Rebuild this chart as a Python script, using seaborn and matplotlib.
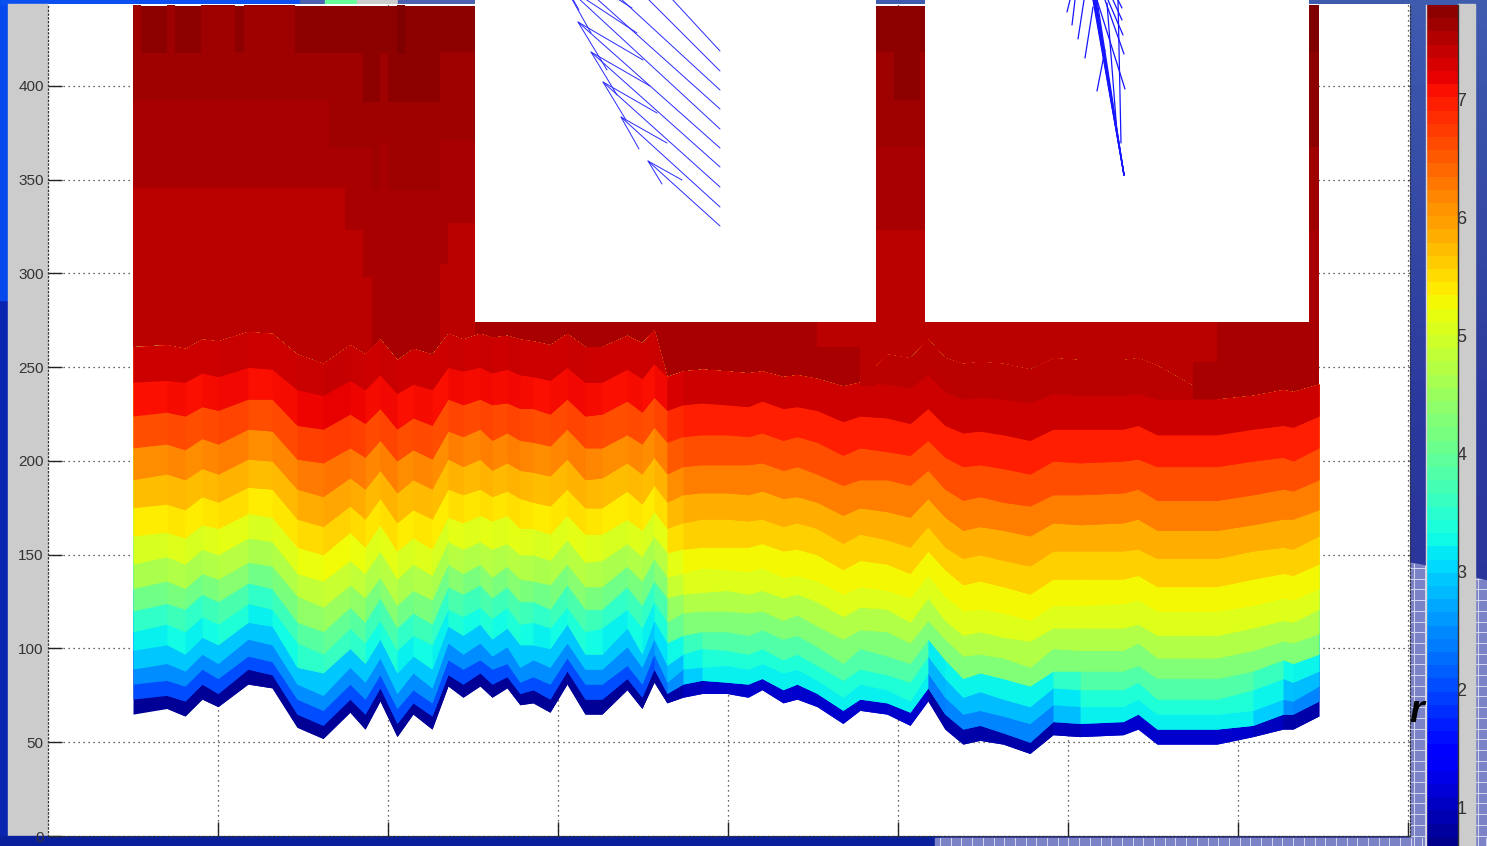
import numpy as np
import matplotlib
matplotlib.use('Agg')
import matplotlib.pyplot as plt
import seaborn as sns
from matplotlib.colors import Normalize
from matplotlib.patches import Polygon, Rectangle

# Vi tri cac tram tren truc x
station_x = [0.500, 0.700, 0.806, 0.906, 1.000, 1.176, 1.318, 1.465, 1.618, 1.776, 1.865, 1.953, 2.053, 2.147, 2.259, 2.353, 2.441, 2.541, 2.612, 2.700, 2.776, 2.853, 2.953, 3.053, 3.159, 3.259, 3.406, 3.494, 3.565, 3.641, 3.735, 3.847, 3.994, 4.118, 4.200, 4.324, 4.406, 4.524, 4.676, 4.776, 4.935, 5.071, 5.176, 5.276, 5.382, 5.482, 5.618, 5.776, 5.912, 6.071, 6.324, 6.412, 6.524, 6.876, 7.088, 7.265, 7.324, 7.476]

# Do sau cua tung duong dang tri, tu duoi len tren
depth_b0 = [65, 68, 64, 73, 69, 81, 79, 58, 52, 66, 57, 72, 53, 65, 57, 80, 74, 80, 74, 79, 70, 71, 66, 81, 65, 65, 78, 68, 82, 71, 74, 76, 76, 74, 78, 71, 73, 69, 60, 67, 65, 59, 72, 57, 49, 51, 49, 44, 54, 53, 54, 57, 49, 49, 53, 57, 57, 64]
depth_b1 = [73, 75, 72, 81, 76, 89, 86, 65, 59, 73, 65, 79, 60, 71, 64, 86, 81, 87, 81, 85, 76, 78, 73, 88, 73, 73, 84, 74, 89, 76, 81, 83, 82, 81, 84, 78, 81, 76, 67, 73, 71, 66, 79, 65, 57, 59, 55, 50, 61, 60, 61, 65, 57, 57, 59, 65, 65, 72]
depth_b2 = [81, 83, 80, 89, 84, 96, 93, 73, 67, 81, 73, 86, 68, 78, 71, 94, 89, 94, 89, 92, 82, 85, 81, 95, 81, 81, 91, 81, 97, 82, 89, 90, 91, 89, 92, 87, 89, 83, 74, 81, 78, 72, 87, 74, 65, 67, 64, 60, 70, 69, 69, 73, 65, 65, 67, 73, 72, 80]
depth_b3 = [89, 92, 88, 97, 92, 105, 102, 81, 75, 90, 82, 95, 76, 87, 79, 103, 97, 103, 96, 101, 90, 94, 90, 103, 89, 89, 101, 90, 105, 91, 97, 100, 99, 97, 100, 94, 97, 91, 83, 89, 86, 82, 96, 84, 74, 77, 73, 69, 79, 78, 78, 82, 73, 73, 78, 84, 82, 88]
depth_b4 = [99, 102, 97, 106, 102, 114, 112, 90, 87, 100, 92, 105, 87, 96, 89, 112, 107, 113, 105, 111, 102, 102, 100, 113, 97, 97, 111, 97, 115, 103, 107, 109, 109, 107, 110, 105, 107, 101, 92, 100, 96, 92, 105, 94, 84, 87, 84, 80, 88, 88, 88, 91, 84, 84, 88, 94, 92, 97]
depth_b5 = [109, 113, 109, 117, 113, 124, 121, 103, 97, 111, 103, 115, 99, 107, 102, 121, 117, 122, 116, 122, 113, 114, 111, 122, 109, 111, 121, 111, 125, 114, 119, 120, 120, 119, 120, 115, 118, 112, 105, 110, 109, 103, 115, 105, 96, 97, 95, 90, 100, 99, 99, 103, 95, 95, 99, 104, 103, 108]
depth_b6 = [120, 124, 121, 129, 125, 135, 132, 114, 109, 122, 114, 127, 111, 119, 113, 133, 129, 134, 127, 133, 125, 125, 121, 134, 121, 121, 133, 123, 136, 127, 129, 130, 131, 129, 131, 127, 129, 125, 117, 122, 121, 114, 127, 115, 107, 109, 106, 104, 111, 111, 111, 113, 107, 107, 111, 115, 114, 121]
depth_b7 = [132, 136, 132, 140, 137, 146, 144, 128, 122, 134, 127, 138, 123, 131, 126, 145, 140, 145, 138, 144, 137, 136, 134, 145, 133, 133, 144, 136, 148, 138, 140, 143, 142, 141, 143, 138, 139, 136, 129, 133, 131, 127, 139, 128, 120, 121, 119, 115, 123, 123, 124, 126, 120, 120, 123, 127, 126, 132]
depth_b8 = [145, 149, 145, 153, 150, 159, 157, 140, 136, 147, 140, 152, 137, 145, 139, 157, 153, 157, 153, 156, 150, 150, 147, 158, 146, 147, 156, 149, 160, 151, 153, 154, 154, 154, 156, 152, 153, 150, 142, 147, 145, 140, 152, 142, 134, 136, 133, 129, 137, 137, 137, 139, 133, 133, 137, 140, 139, 145]
depth_b9 = [160, 162, 159, 166, 164, 172, 170, 154, 150, 162, 154, 166, 152, 159, 153, 170, 167, 171, 168, 171, 164, 164, 161, 171, 161, 161, 169, 163, 173, 164, 167, 169, 169, 168, 169, 165, 167, 164, 156, 161, 158, 154, 165, 154, 148, 150, 147, 144, 152, 152, 152, 153, 148, 148, 152, 154, 153, 160]
depth_b10 = [175, 177, 174, 181, 178, 186, 185, 169, 165, 176, 169, 180, 167, 174, 169, 185, 182, 185, 181, 184, 180, 178, 176, 185, 175, 175, 184, 177, 187, 178, 182, 183, 183, 182, 184, 180, 181, 178, 171, 175, 173, 170, 180, 170, 163, 165, 163, 160, 167, 166, 167, 169, 163, 163, 166, 169, 169, 174]
depth_b11 = [190, 193, 190, 196, 193, 201, 200, 185, 181, 191, 185, 195, 183, 190, 185, 201, 197, 201, 195, 199, 195, 194, 192, 201, 190, 191, 199, 193, 202, 193, 197, 198, 198, 198, 199, 195, 197, 193, 187, 190, 190, 187, 195, 185, 179, 181, 178, 176, 182, 182, 183, 185, 179, 179, 182, 185, 184, 190]
depth_b12 = [207, 209, 206, 212, 209, 217, 216, 201, 199, 207, 202, 211, 200, 206, 201, 216, 213, 217, 211, 215, 211, 210, 208, 217, 207, 207, 214, 209, 218, 210, 213, 214, 214, 213, 215, 211, 213, 210, 203, 207, 205, 203, 211, 202, 197, 198, 196, 193, 200, 199, 200, 201, 197, 197, 200, 202, 200, 207]
depth_b13 = [224, 226, 224, 229, 227, 233, 233, 219, 217, 225, 220, 228, 217, 223, 219, 233, 230, 233, 230, 231, 228, 228, 225, 233, 224, 225, 232, 226, 234, 227, 230, 231, 230, 229, 232, 228, 229, 227, 221, 224, 223, 220, 228, 219, 215, 216, 214, 211, 217, 217, 217, 219, 214, 214, 217, 219, 218, 224]
depth_b14 = [242, 243, 242, 247, 245, 250, 249, 238, 235, 243, 238, 246, 236, 241, 238, 250, 248, 250, 247, 249, 246, 245, 243, 250, 242, 242, 249, 244, 252, 245, 248, 249, 248, 247, 248, 245, 246, 244, 240, 242, 241, 239, 246, 237, 233, 234, 233, 231, 236, 235, 235, 236, 233, 233, 235, 238, 237, 241]
depth_b15 = [261, 262, 260, 265, 264, 269, 268, 257, 252, 262, 257, 265, 254, 260, 257, 268, 265, 268, 266, 267, 265, 264, 262, 268, 261, 261, 267, 263, 270, 245, 248, 249, 248, 247, 248, 245, 246, 244, 240, 242, 257, 255, 265, 255, 252, 253, 252, 249, 255, 254, 254, 255, 251, 233, 235, 238, 237, 241]

# Gia tri mau cua tung lop o hai phia cua mat cat
band_value_west = [0.79, 2.08, 2.54, 2.94, 3.22, 3.58, 4.12, 4.62, 5.01, 5.37, 5.71, 6.09, 6.56, 7.04, 7.31]
band_value_east = [1.12, 3.22, 3.44, 3.84, 4.26, 4.69, 5.08, 5.26, 5.59, 5.84, 6.19, 6.56, 6.92, 7.31, 7.43]
warm_mix = [0, 0.1, 0, 0.1, 0.2, 0, 0.1, 0.3, 0.4, 0.3, 0.1, 0.2, 0, 0.1, 0, 0.2, 0.1, 0.2, 0.1, 0.2, 0.1, 0, 0.1, 0.2, 0.1, 0, 0.1, 0, 0.2, 0.8, 1, 1, 1, 1, 1, 1, 1, 1, 1, 1, 1, 1, 1, 1, 1, 1, 1, 1, 1, 1, 1, 1, 1, 1, 1, 1, 1, 1]
cold_mix = [0, 0, 0, 0, 0, 0, 0, 0, 0, 0, 0, 0, 0, 0, 0, 0, 0, 0, 0, 0, 0, 0, 0, 0, 0, 0, 0, 0, 0.2, 0.4, 0.8, 1, 1, 1, 1, 1, 1, 1, 1, 1, 1, 1, 0.3, 0.35, 0.35, 0.35, 0.35, 0.35, 0.7, 1, 1, 1, 1, 1, 0.8, 0.4, 0.35, 0.25]

# Cac khoi mau dam o tang tren
upper_edges = [0.5, 0.547, 0.7, 0.747, 0.9, 1.1, 1.153, 1.453, 1.653, 1.747, 1.853, 1.906, 1.953, 2.0, 2.306, 2.353, 2.512, 4.871, 4.976, 5.129, 5.159, 6.876, 7.418, 7.476]
upper_a = [443, 417.5, 443, 417.5, 443, 418, 443, 417.5, 417.5, 417.5, 391.7, 391.7, 417.5, 391.7, 418, 418, 417.5, 418, 392.6, 418, 400, 400, 367.5]
upper_b = [392.6, 392.6, 392.6, 392.6, 392.6, 392.6, 392.6, 392.6, 366.8, 366.8, 366.8, 344.6, 369.4, 344.6, 371.2, 371.2, 300, 367.5, 367.5, 367.5, 300, 300, 323]
upper_c = [345.5, 345.5, 345.5, 345.5, 345.5, 345.5, 345.5, 345.5, 345.5, 323, 298, 235, 235, 235, 305, 327, 235, 323, 323, 323, 323, 230, 230]
upper_values = {'d': 7.43, 'c': 7.53, 'b': 7.6, 'a': 7.7}
block_x0 = [2.053, 7.418, 4.524, 4.776, 6.735]
block_x1 = [2.100, 7.476, 4.776, 4.871, 6.876]
block_lo = [417, 418, 261, 240, 233]
block_hi = [443, 443, 280, 280, 253]
block_value = [7.8, 7.8, 7.43, 7.43, 7.53]

# Vec to trong hai o trang (don vi rieng cua tung o)
stick1_tail_x = [245, 245, 245, 245, 245, 245, 245, 245, 245, 245]
stick1_tail_y = [226, 207, 187, 167, 148, 129, 109, 90, 71, 51]
stick1_head_x = [173, 146, 128, 116, 103, 89, 73, 71, 134, 161]
stick1_head_y = [161, 117, 82, 52, 22, -15, -45, -70, -40, -40]
barb_long_x = [207, 192, 182, 175, 168, 162, 157]
barb_long_y = [180, 143, 113, 86, 60, 33, 8]
barb_short_x = [187, 164, 151, 142, 132, 116, 104]
barb_short_y = [184, 149, 120, 95, 70, 33, 10]

stick2_x0 = [199, 199, 199, 199, 199, 199, 199, 199, 142, 147, 153, 160, 172, 200, 199, 198, 197, 197, 196, 192]
stick2_y0 = [175, 175, 175, 175, 175, 175, 175, 175, 12, 25, 39, 58, 91, 89, 54, 35, 20, 8, 143, 133]
stick2_x1 = [168, 168.5, 169, 169.5, 170, 170.5, 171, 172, 145, 150, 159, 168, 180, 172, 180, 183, 188, 193, 193, 182]
stick2_y1 = [0, 0, 0, 0, 0, 0, 0, 0, 0, 0, 0, 7, 50, 0, 0, 0, 0, 0, 0, 3]

depth_ticks = [0, 50, 100, 150, 200, 250, 300, 350, 400]
distance_ticks = [1, 2, 3, 4, 5, 6, 7, 8]
colorbar_ticks = [1, 2, 3, 4, 5, 6, 7]
color_min = 0.644
color_max = 7.805

sns.set_theme(style='white')
plt.rcParams['font.family'] = ['Liberation Sans', 'DejaVu Sans']

W, H = 1487, 846
fig = plt.figure(figsize=(W / 100, H / 100), dpi=100)


def pixel_axes(x0, y0, x1, y1):
    # Tao truc theo toa do pixel cua anh
    return fig.add_axes([x0 / W, (H - y1) / H, (x1 - x0) / W, (y1 - y0) / H])


# Nen man hinh phia sau bieu do
bg = fig.add_axes([0, 0, 1, 1], zorder=0)
bg.set_xlim(0, W)
bg.set_ylim(H, 0)
bg.axis('off')
bg.imshow(np.linspace(0, 1, 60).reshape(-1, 1), extent=(0, W, H, 0), aspect='auto',
          cmap=sns.blend_palette(['#3f5bae', '#2b389c', '#2a3298'], as_cmap=True))
bg.add_patch(Rectangle((0, 0), 8, H, color='#0a24b0'))
bg.add_patch(Rectangle((0, 0), 8, 300, color='#0548ee'))
bg.add_patch(Rectangle((0, 0), 300, 4, color='#0a50f0'))
bg.add_patch(Rectangle((300, 0), 25, 4, color='#4a62b0'))
bg.add_patch(Rectangle((325, 0), 32, 4, color='#66ff99'))
bg.add_patch(Rectangle((357, 0), 41, 4, color='#cccccc'))
bg.add_patch(Rectangle((398, 0), 80, 4, color='#4a62b0'))
bg.add_patch(Rectangle((8, 4), 40, 832, color='#cccccc'))
bg.add_patch(Rectangle((0, 836), 940, 10, color='#0a1f9c'))
hatch_area = Polygon([(1410, 563), (1426, 566), (1475, 578), (W, 581), (W, H), (1410, H)], color='#7c82c6')
bg.add_patch(hatch_area)
bg.add_patch(Rectangle((935, 838), W - 935, 8, color='#7c82c6'))
for gx in np.arange(940, W, 10.7):
    bg.plot([gx, gx], [838, H], color='#d5d8f0', lw=0.7)
for gx in np.arange(1414, W, 10.7):
    line, = bg.plot([gx, gx], [560, H], color='#d5d8f0', lw=0.7)
    line.set_clip_path(hatch_area)
for gy in np.arange(568, H, 10.7):
    line, = bg.plot([1405, W], [gy, gy], color='#d5d8f0', lw=0.7)
    line.set_clip_path(hatch_area)
bg.add_patch(Rectangle((1458, 4), 17, H, color='#cccccc', zorder=4))

# Truc chinh
ax = pixel_axes(48, 4, 1410, 836)
ax.set_zorder(1)
ax.set_facecolor('white')
ax.set_xlim(0, 8.012)
ax.set_ylim(0, 443.7)
ax.set_axisbelow(True)

cmap = plt.get_cmap('jet')
norm = Normalize(color_min, color_max)


def to_color(value):
    return cmap(norm(value))


# Tang tren: cac khoi mau do dam
edges = np.array(upper_edges)
widths = np.diff(edges)
top_depth = 442.6
ax.bar(edges[:-1], top_depth - 225, widths, bottom=225, align='edge', color=to_color(upper_values['d']),
       linewidth=0, antialiased=False)
for key, lower in [('c', upper_c), ('b', upper_b), ('a', upper_a)]:
    lower = np.array(lower)
    ax.bar(edges[:-1], top_depth - lower, widths, bottom=lower, align='edge',
           color=to_color(upper_values[key]), linewidth=0, antialiased=False)

# Cac lop mau: moi doan ve chong len doan sau va phu kin den duong tren cung de khong ho khe
bounds = [depth_b0, depth_b1, depth_b2, depth_b3, depth_b4, depth_b5, depth_b6, depth_b7,
          depth_b8, depth_b9, depth_b10, depth_b11, depth_b12, depth_b13, depth_b14, depth_b15]
for k in range(15):
    mix = cold_mix if k <= 3 else warm_mix
    for j in range(len(station_x) - 1):
        val = band_value_west[k] + mix[j] * (band_value_east[k] - band_value_west[k])
        ax.fill_between(station_x[j:j + 3], bounds[k][j:j + 3], depth_b15[j:j + 3],
                        facecolor=to_color(val), linewidth=0)

for x0, x1, lo, hi, val in zip(block_x0, block_x1, block_lo, block_hi, block_value):
    ax.bar(x0, hi - lo, x1 - x0, bottom=lo, align='edge', color=to_color(val), linewidth=0, antialiased=False)

ax.set_xticks(distance_ticks)
ax.set_xticklabels([])
ax.set_yticks(depth_ticks)
ax.tick_params(axis='both', direction='in', length=10, width=1, color='#222222', left=True, bottom=True,
               labelsize=11, labelcolor='#333333', pad=3)
ax.grid(True, color='#333333', linestyle=(0, (1, 3)), linewidth=0.9)
for side in ax.spines:
    ax.spines[side].set_linestyle((0, (1, 2)))
    ax.spines[side].set_color('#333333')
    ax.spines[side].set_linewidth(0.9)
ax.spines['top'].set_visible(False)

# Hai o trang co vec to
inset1 = pixel_axes(475, 0, 876, 322)
inset1.set_zorder(2)
inset1.set_xlim(0, 401)
inset1.set_ylim(322, 0)
inset1.axis('off')
inset1.add_patch(Rectangle((0, 0), 401, 322, color='white'))
for i in range(len(stick1_tail_x)):
    inset1.plot([stick1_tail_x[i], stick1_head_x[i]], [stick1_tail_y[i], stick1_head_y[i]], color='#2a2aff', lw=0.7)
for i in range(len(barb_long_x)):
    hx, hy = stick1_head_x[i], stick1_head_y[i]
    inset1.plot([barb_long_x[i], hx, barb_short_x[i]], [barb_long_y[i], hy, barb_short_y[i]], color='#2a2aff', lw=0.7)

inset2 = pixel_axes(925, 0, 1309, 322)
inset2.set_zorder(2)
inset2.set_xlim(0, 384)
inset2.set_ylim(322, 0)
inset2.axis('off')
inset2.add_patch(Rectangle((0, 0), 384, 322, color='white'))
for i in range(len(stick2_x0)):
    inset2.plot([stick2_x0[i], stick2_x1[i]], [stick2_y0[i], stick2_y1[i]], color='#1515ff', lw=0.9)

# Thanh mau ve bang heatmap, 64 muc mau
cax = pixel_axes(1426, 5, 1458, 850)
cax.set_zorder(3)
ramp = np.linspace(1, 0, 64).reshape(-1, 1)
sns.heatmap(ramp, ax=cax, cmap=sns.mpl_palette('jet', 64), vmin=0, vmax=1, cbar=False,
            xticklabels=False, yticklabels=False)
tick_rows = [(color_max - v) / (color_max - color_min) * 64 for v in colorbar_ticks]
cax.set_yticks(tick_rows)
cax.set_yticklabels([str(v) for v in colorbar_ticks])
cax.tick_params(axis='y', direction='in', length=8, width=1, color='#111111', left=True, right=True,
                labelleft=False, labelright=True, labelsize=13, labelcolor='#333333', pad=-1)
for side in ['left', 'right']:
    cax.spines[side].set_visible(True)
    cax.spines[side].set_linewidth(1)
cax.spines['left'].set_color('#d8d8d8')
cax.spines['right'].set_color('#333333')

fig.text(1417 / W, (H - 712) / H, 'r', fontsize=27, fontstyle='italic', fontweight='bold', color='black',
         ha='center', va='center', zorder=5)

fig.savefig('out.png', dpi=100)
